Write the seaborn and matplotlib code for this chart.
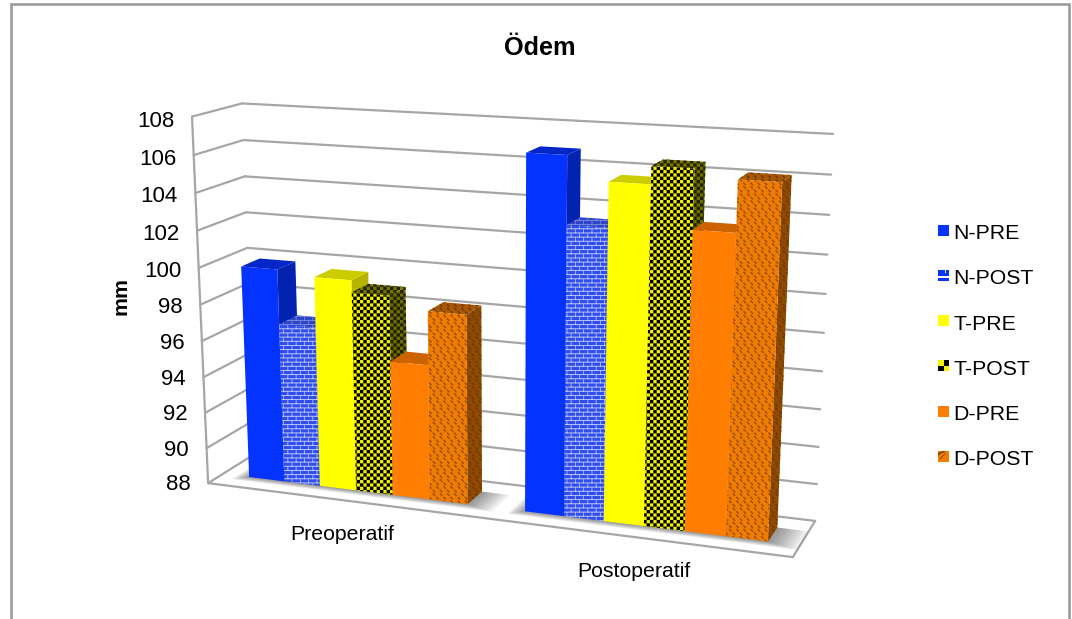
import warnings
import numpy as np
import pandas as pd
import matplotlib
matplotlib.use("Agg")
import matplotlib.pyplot as plt
import matplotlib.hatch as mhatch
from matplotlib.path import Path
from matplotlib.patches import Polygon, Rectangle, Patch
from matplotlib.transforms import Affine2D, Transform
from matplotlib.legend_handler import HandlerBase
import seaborn as sns

warnings.filterwarnings("ignore")

# ---------- data ----------
categories = ["Preoperatif", "Postoperatif"]
series_names = ["N-PRE", "N-POST", "T-PRE", "T-POST", "D-PRE", "D-POST"]
pre_values = [99.85, 96.85, 99.6, 98.95, 95.4, 98.3]
post_values = [106.85, 103.35, 105.65, 106.55, 103.55, 106.15]
y_ticks = [88, 90, 92, 94, 96, 98, 100, 102, 104, 106, 108]

# ---------- styles ----------
front_col = ["#0433FF", "#2F4DF0", "#FFFF00", "#F2F200", "#FF7D00", "#F07C00"]
hatch_col = [None, "#C9D2FF", None, "#000000", None, "#9A4F00"]
top_col = ["#0326C8", "#2F45C8", "#CCCC00", "#777700", "#CC6300", "#A85800"]
side_col = ["#0322B0", "#2A3FB0", "#B5B500", "#6E6E00", "#B35700", "#8F4A00"]
side_hatch = [None, "#8090E0", None, "#222200", None, "#6E3900"]
hatch_chr = [None, "B", None, "C", None, "W"]
grid_col = "#A6A6A6"
FONT = "Liberation Sans"


# ---------- custom hatches (filled) ----------
def rect_verts(x0, y0, x1, y1):
    return [(x0, y0), (x1, y0), (x1, y1), (x0, y1), (x0, y0)]


class FilledHatch(mhatch.HatchPatternBase):
    filled = True
    char = "?"

    def __init__(self, hatch, density):
        self.polys = self.build() if self.char in hatch else []
        self.num_vertices = 5 * len(self.polys)

    def set_vertices_and_codes(self, vertices, codes):
        for i, poly in enumerate(self.polys):
            vertices[5 * i:5 * i + 5] = poly
            codes[5 * i:5 * i + 5] = [Path.MOVETO, Path.LINETO, Path.LINETO, Path.LINETO, Path.CLOSEPOLY]


class CheckerHatch(FilledHatch):
    char = "C"

    def build(self):
        n, s, out = 30, 1 / 30, []
        for i in range(n):
            for j in range(n):
                if (i + j) % 2 == 0:
                    out.append(rect_verts(i * s, j * s, (i + 1) * s, (j + 1) * s))
        return out


class BrickHatch(FilledHatch):
    char = "B"

    def build(self):
        rows, cols, out = 24, 12, []
        t = 0.008
        for r in range(rows):
            y = r / rows
            out.append(rect_verts(0, y, 1, y + t))
            for c in range(cols):
                x = (c + (0.5 if r % 2 else 0)) / cols
                out.append(rect_verts(x, y, x + t * .8, y + 1 / rows))
        return out


class WeaveHatch(FilledHatch):
    char = "W"

    def build(self):
        n, s, out = 14, 1 / 14, []
        t = 0.010
        L = 0.017
        for i in range(n):
            for j in range(n):
                for off in (0.0, 0.5):
                    cx, cy = (i + off + .25) * s, (j + off * 1 + .25) * s
                    cx += 0.5 * s if (j % 2) else 0
                    out.append([(cx - L, cy + L - t), (cx - L + t, cy + L),
                                (cx + L, cy - L + t), (cx + L - t, cy - L), (cx - L, cy + L - t)])
        return out


mhatch._hatch_types.extend([CheckerHatch, BrickHatch, WeaveHatch])
plt.rcParams["hatch.linewidth"] = 0.05

# ---------- camera from the box corners of the 3-D frame (x, value, depth) -> pixels ----------
X0, X1, V0, V1 = -0.5, 1.5, 88.0, 108.0
Z_FRONT, Z_BACK = 0.31, 0.70
box = [((X0, V0, 0), (208, 482)), ((X1, V0, 0), (793, 558)), ((X0, V0, 1), (255, 455)),
       ((X1, V0, 1), (815, 520)), ((X0, V1, 0), (192, 117)), ((X0, V1, 1), (242, 103)),
       ((X1, V1, 1), (833, 134))]


def norm(x, v, z):
    return (np.asarray(x, float) - X0) / (X1 - X0), (np.asarray(v, float) - V0) / (V1 - V0), np.asarray(z, float)


A = []
for (x, v, z), (u, w) in box:
    a, b, c = norm(x, v, z)
    A.append([a, b, c, 1, 0, 0, 0, 0, -u * a, -u * b, -u * c, -u])
    A.append([0, 0, 0, 0, a, b, c, 1, -w * a, -w * b, -w * c, -w])
P = np.linalg.svd(np.array(A, float))[2][-1].reshape(3, 4)


def project(x, v, z=0.0):
    a, b, c = norm(x, v, z)
    d = P[2, 0] * a + P[2, 1] * b + P[2, 2] * c + P[2, 3]
    return ((P[0, 0] * a + P[0, 1] * b + P[0, 2] * c + P[0, 3]) / d,
            (P[1, 0] * a + P[1, 1] * b + P[1, 2] * c + P[1, 3]) / d)


class Proj(Transform):
    input_dims = output_dims = 2
    is_affine = False
    has_inverse = False

    def __init__(self, z):
        super().__init__()
        self.z = z

    def transform_non_affine(self, values):
        values = np.asarray(values, float)
        u, w = project(values[:, 0], values[:, 1], self.z)
        return np.column_stack([u, w])


# ---------- figure ----------
W, H = 1072, 619
sns.set_style("white")
plt.rcParams["font.family"] = [FONT, "DejaVu Sans"]
plt.rcParams["text.color"] = "black"
fig = plt.figure(figsize=(W / 100, H / 100), dpi=100, facecolor="white")
ax = fig.add_axes([0, 0, 1, 1])
pix = Affine2D().scale(1, -1).translate(0, H)

df = pd.DataFrame({
    "phase": np.repeat(categories, len(series_names)),
    "series": series_names * len(categories),
    "value": pre_values + post_values,
})
sns.barplot(data=df, x="phase", y="value", hue="series", hue_order=series_names, order=categories,
            palette=front_col, saturation=1, width=0.8, gap=0, dodge=True, legend=False, ax=ax)
ax.set_xlim(X0, X1)
ax.set_ylim(V0, V1)
ax.set_axis_off()


def line3(p, q, zo=2):
    a, b = project(*p), project(*q)
    ax.plot([a[0], b[0]], [a[1], b[1]], color=grid_col, lw=1.6, transform=pix, clip_on=False,
            zorder=zo, solid_capstyle="round", scalex=False, scaley=False)


# frame of the whole chart
for xs, ys in [([11, 11], [H, 4]), ([11, 1069], [4, 4]), ([1069, 1069], [4, H])]:
    ax.plot(xs, ys, color="#9C9C9C", lw=1.9, transform=pix, clip_on=False, zorder=1,
            scalex=False, scaley=False)

# walls and floor
for t in y_ticks:
    line3((X0, t, 0), (X0, t, 1))
    line3((X0, t, 1), (X1, t, 1))
line3((X0, V0, 0), (X0, V1, 0))
line3((X0, V0, 0), (X1, V0, 0))
line3((X1, V0, 0), (X1, V0, 1))

# soft shadows on the floor
for gi in (0, 1):
    g0, g1 = gi - 0.4, gi + 0.4
    for k in range(1, 13):
        e = 0.0065 * k
        pts = [project(g0 - e * .6, V0, Z_FRONT - e * 1.6), project(g1 + e * 1.3, V0, Z_FRONT - e * 1.6),
               project(g1 + e * 1.3, V0, Z_BACK), project(g0 - e * .6, V0, Z_BACK)]
        ax.add_patch(Polygon(pts, closed=True, fc="#000000", ec="none", lw=0, alpha=0.04, transform=pix,
                             clip_on=False, zorder=3))

# bars: seaborn's rectangles are placed through the projection, faces added from the same geometry
trf = Proj(Z_FRONT) + pix
zo = 10
for gi in range(len(categories)):
    for si, container in enumerate(ax.containers):
        bar = container.patches[gi]
        x0, w, v = bar.get_x(), bar.get_width(), bar.get_height()
        x1 = x0 + w
        bar.set_y(V0)
        bar.set_height(v - V0)
        bar.set_transform(trf)
        bar.set_clip_on(False)
        bar.set_linewidth(0)
        bar.set_zorder(zo + 2)
        if hatch_chr[si]:
            bar.set_edgecolor(hatch_col[si])
            bar.set_hatch(hatch_chr[si])
        # side face
        side = [project(x1, V0, Z_FRONT), project(x1, V0, Z_BACK), project(x1, v, Z_BACK), project(x1, v, Z_FRONT)]
        top = [project(x0, v, Z_FRONT), project(x1, v, Z_FRONT), project(x1, v, Z_BACK), project(x0, v, Z_BACK)]
        ax.add_patch(Polygon(side, closed=True, fc=side_col[si], lw=0,
                             ec=side_hatch[si] or "none", hatch=hatch_chr[si], transform=pix,
                             clip_on=False, zorder=zo))
        ax.add_patch(Polygon(top, closed=True, fc=top_col[si], lw=0,
                             ec=side_hatch[si] or "none", hatch=hatch_chr[si], transform=pix,
                             clip_on=False, zorder=zo + 1))
        zo += 3

# texts
FS = 15.3
ax.text(540, 48, "Ödem", fontsize=18.2, fontweight="bold", ha="center", va="center", transform=pix, clip_on=False)
ax.text(121, 296, "mm", fontsize=FS, fontweight="bold", rotation=90, ha="center", va="center",
        transform=pix, clip_on=False)
for t in y_ticks:
    u, w = project(X0, t, 0)
    ax.text(u - 17.5, w + 1.5 + (t - V0) * 0.15, str(t), fontsize=16, ha="right", va="center",
            transform=pix, clip_on=False)
for i, c in enumerate(categories):
    u, w = project(i, V0, 0)
    ax.text(u - 1, w + 34, c, fontsize=FS, ha="center", va="center", transform=pix, clip_on=False)


# legend with small magnified icons
class IconHandler(HandlerBase):
    def create_artists(self, legend, handle, xd, yd, width, height, fontsize, trans):
        s = min(width, height)
        x0, y0 = -xd, -yd + 1.5
        name = handle.get_label()
        idx = series_names.index(name)
        arts = [Rectangle((x0, y0), s, s, fc=front_col[idx] if idx not in (1,) else "#0433FF", lw=0, transform=trans)]

        def r(a, b, c, d, col):
            arts.append(Rectangle((x0 + a * s, y0 + b * s), (c - a) * s, (d - b) * s, fc=col, lw=0, transform=trans))

        if name == "N-POST":
            r(0, .27, 1, .45, "white")
            r(.6, .72, .75, 1, "white")
        elif name == "T-POST":
            r(.5, .5, 1, 1, "black")
            r(0, 0, .5, .5, "black")
        elif name == "D-POST":
            arts.append(Polygon([(x0, y0 + .6 * s), (x0, y0 + .8 * s), (x0 + .45 * s, y0 + s), (x0 + .7 * s, y0 + s)],
                                closed=True, fc="#7A4000", lw=0, transform=trans))
            arts.append(Polygon([(x0 + .1 * s, y0 + .2 * s), (x0 + .25 * s, y0 + .3 * s), (x0 + s * .75, y0 + .85 * s),
                                 (x0 + .6 * s, y0 + .75 * s)], closed=True, fc="#1A1000", lw=0, transform=trans))
        return arts


handles = [Patch(label=n) for n in series_names]
ax.legend(handles=handles, loc="upper left", bbox_to_anchor=(938, 224), bbox_transform=pix,
          frameon=False, fontsize=FS, borderpad=0, borderaxespad=0, handlelength=0.52, handleheight=0.52,
          handletextpad=0.2, labelspacing=1.237, handler_map={Patch: IconHandler()})

fig.savefig("out.png", dpi=100, facecolor="white")
